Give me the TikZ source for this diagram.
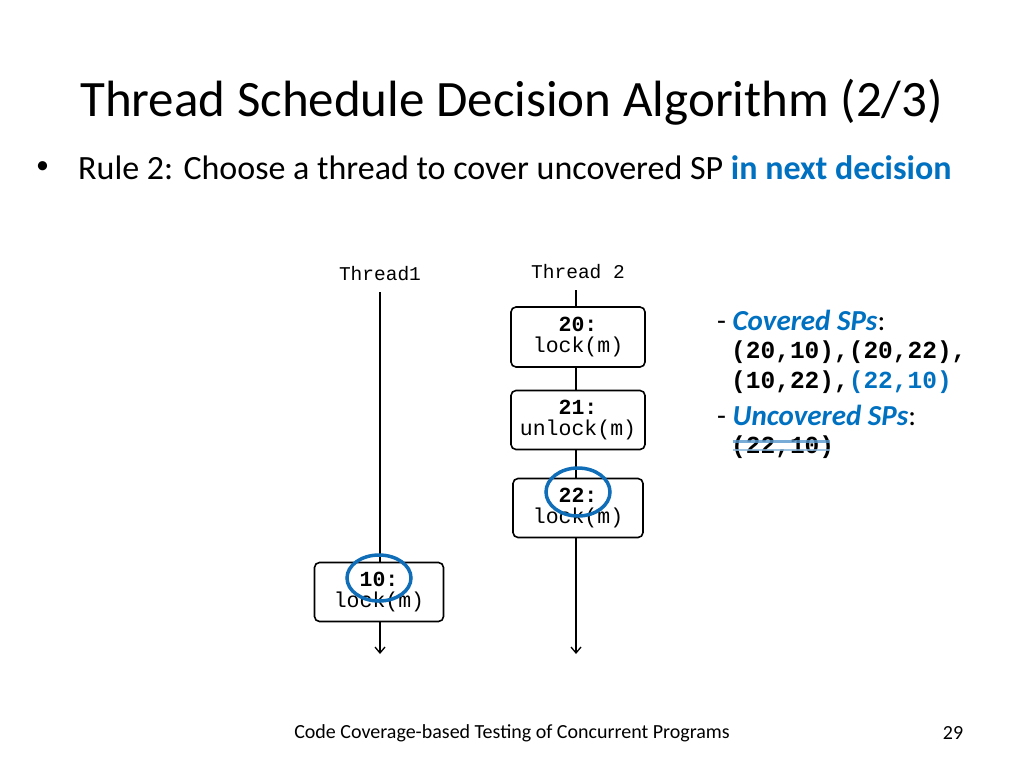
\documentclass[tikz,border=0pt]{standalone}
\usepackage{fontspec}
\setmainfont{Carlito}
\newfontfamily\cod{Liberation Mono}
\usetikzlibrary{arrows.meta}
\definecolor{hl}{RGB}{0,112,192}
\definecolor{circ}{RGB}{16,110,185}
\tikzset{
  codebox/.style={draw,line width=1.6pt,rounded corners=5pt,fill=white,align=center,font=\cod\fontsize{21.5}{21}\selectfont,inner sep=0pt},
  tl/.style={line width=1.3pt},
}
\begin{document}
\begin{tikzpicture}[x=1pt,y=-1pt]
\useasboundingbox (0,0) rectangle (1024,768);
\node[anchor=west,inner sep=0pt,font=\fontsize{51}{54}\selectfont] (title) at (80,102) {Thread Schedule Decision Algorithm (2/3)};
\node[anchor=west,inner sep=0pt,font=\fontsize{26}{30}\selectfont] (dot) at (36,168) {\textbullet};
\node[anchor=west,inner sep=0pt,font=\fontsize{34}{36}\selectfont] (bul) at (78,168) {Rule 2: Choose a thread to cover uncovered SP \textcolor{hl}{\textbf{in next decision}}};
\node[font=\cod\fontsize{19.5}{20}\selectfont] (t1) at (380,274) {Thread1};
\node[font=\cod\fontsize{19.5}{20}\selectfont] (t2) at (578,272) {Thread 2};
\coordinate (t1s) at (380,292); \coordinate (t1e) at (380,654);
\coordinate (t2s) at (576,290); \coordinate (t2e) at (576,654);
\draw[tl,-{Straight Barb[length=6pt,width=10pt]}] (t1s) -- (t1e);
\draw[tl,-{Straight Barb[length=6pt,width=10pt]}] (t2s) -- (t2e);
\node[codebox,minimum width=134pt,minimum height=60pt] (b20) at (578,337) {\textbf{20:}\\lock(m)};
\node[codebox,minimum width=134pt,minimum height=59pt] (b21) at (578,420) {\textbf{21:}\\unlock(m)};
\node[codebox,minimum width=130pt,minimum height=59pt] (b22) at (578,508) {\textbf{22:}\\lock(m)};
\node[codebox,minimum width=129pt,minimum height=59pt] (b10) at (379,592) {\textbf{10:}\\lock(m)};
\draw[circ,line width=3.5pt] (578,492) ellipse (32pt and 24pt);
\draw[circ,line width=3.5pt] (379,578) ellipse (32pt and 23pt);
\begin{scope}[every node/.style={anchor=west,inner sep=0pt}]
\node[font=\fontsize{29}{30}\selectfont] (c1) at (717,320) {- \textcolor{hl}{\textbf{\textit{Covered SPs}}}:};
\node[font=\cod\bfseries\fontsize{24.5}{25}\selectfont] (c2) at (731,352) {(20,10),(20,22),};
\node[font=\cod\bfseries\fontsize{24.5}{25}\selectfont] (c3) at (731,382) {(10,22),\textcolor{hl}{(22,10)}};
\node[font=\fontsize{29}{30}\selectfont] (c4) at (717,415) {- \textcolor{hl}{\textbf{\textit{Uncovered SPs}}}:};
\node[font=\cod\bfseries\fontsize{24.5}{25}\selectfont] (c5) at (731,447) {(22,10)};
\end{scope}
\draw[line width=3pt,draw=circ!70!white,opacity=0.8] (733,441) -- (830,441);
\draw[line width=2pt,draw=circ!50!white,opacity=0.8] (733,450) -- (830,450);
\node[font=\fontsize{20}{22}\selectfont] (foot) at (512,733) {Code Coverage-based Testing of Concurrent Programs};
\node[font=\fontsize{20}{22}\selectfont] (pg) at (953,733) {29};
\end{tikzpicture}
\end{document}
